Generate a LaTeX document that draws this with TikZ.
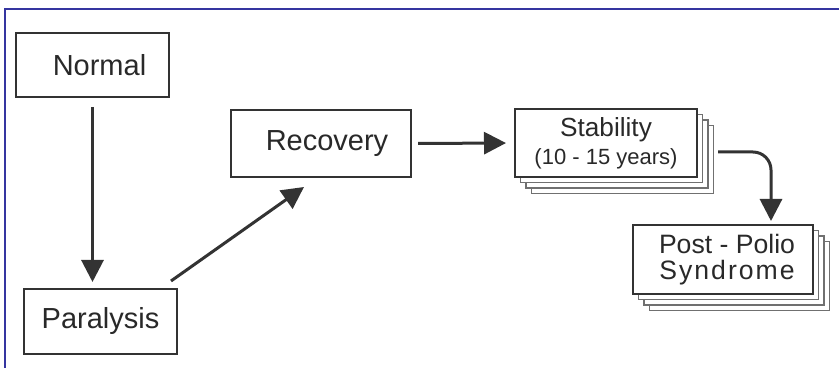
\documentclass[tikz,border=0pt]{standalone}
\usepackage{fontspec}
\setmainfont{Liberation Sans}
\usepackage{tikz}
\usetikzlibrary{arrows.meta,shadows}

\definecolor{ink}{HTML}{333333}
\definecolor{frame}{HTML}{3535A0}

\begin{document}
\begin{tikzpicture}[x=0.5pt, y=-0.5pt,
    box/.style={draw=ink, line width=1pt, fill=white, inner sep=0pt, text=ink!80!black,
      align=center, font=\fontsize{14.5pt}{17pt}\selectfont},
    nudge/.style={execute at begin node={\hspace*{#1}}},
    layer/.style={copy shadow={shadow xshift=#1, shadow yshift=-#1,
      draw=ink!70, fill=white, line width=0.6pt}},
    stack/.style={layer=8.25pt, layer=5.5pt, layer=2.75pt},
    arr/.style={draw=ink, line width=1.5pt,
      -{Triangle[length=11pt, width=11pt]}}]
   \useasboundingbox (0,0) rectangle (839,368);
   \draw[frame, line width=0.7pt] (5,368) -- (5,9) -- (839,9);

   \node[box, nudge=7pt, minimum width=76.5pt, minimum height=32pt] (normal) at (92.5,65) {Normal};
   \node[box, minimum width=76.5pt, minimum height=32.5pt] (para) at (100.5,321.5) {Paralysis};
   \node[box, nudge=6pt, minimum width=90pt, minimum height=33.5pt] (rec) at (321,143.5) {Recovery};
   \node[box, stack, minimum width=91pt, minimum height=34pt,
     font=\fontsize{13.1pt}{14pt}\selectfont] (stab) at (606,143)
     {Stability\\{\fontsize{11pt}{14pt}\selectfont(10 - 15 years)}};
   \node[box, stack, minimum width=90pt, minimum height=34.5pt,
     font=\fontsize{13.3pt}{13pt}\selectfont] (pps) at (723,259.5)
     {\hspace*{4pt}Post - Polio\\\hspace*{4pt}{\addfontfeature{LetterSpace=7.5}Syndrome}};

   \draw[arr, shorten <=4.5pt, shorten >=3pt] (normal.south) -- (normal.south |- para.north);
   \draw[arr] ([shift={(-7,-7)}]para.north east) -- ([shift={(-17,9)}]rec.south);
   \draw[arr, shorten <=3pt, shorten >=4pt] (rec.east) -- (stab.west);
   \draw[arr, rounded corners=9pt] ([shift={(20,9)}]stab.east) -| ([shift={(48,-3)}]pps.north);
\end{tikzpicture}
\end{document}
